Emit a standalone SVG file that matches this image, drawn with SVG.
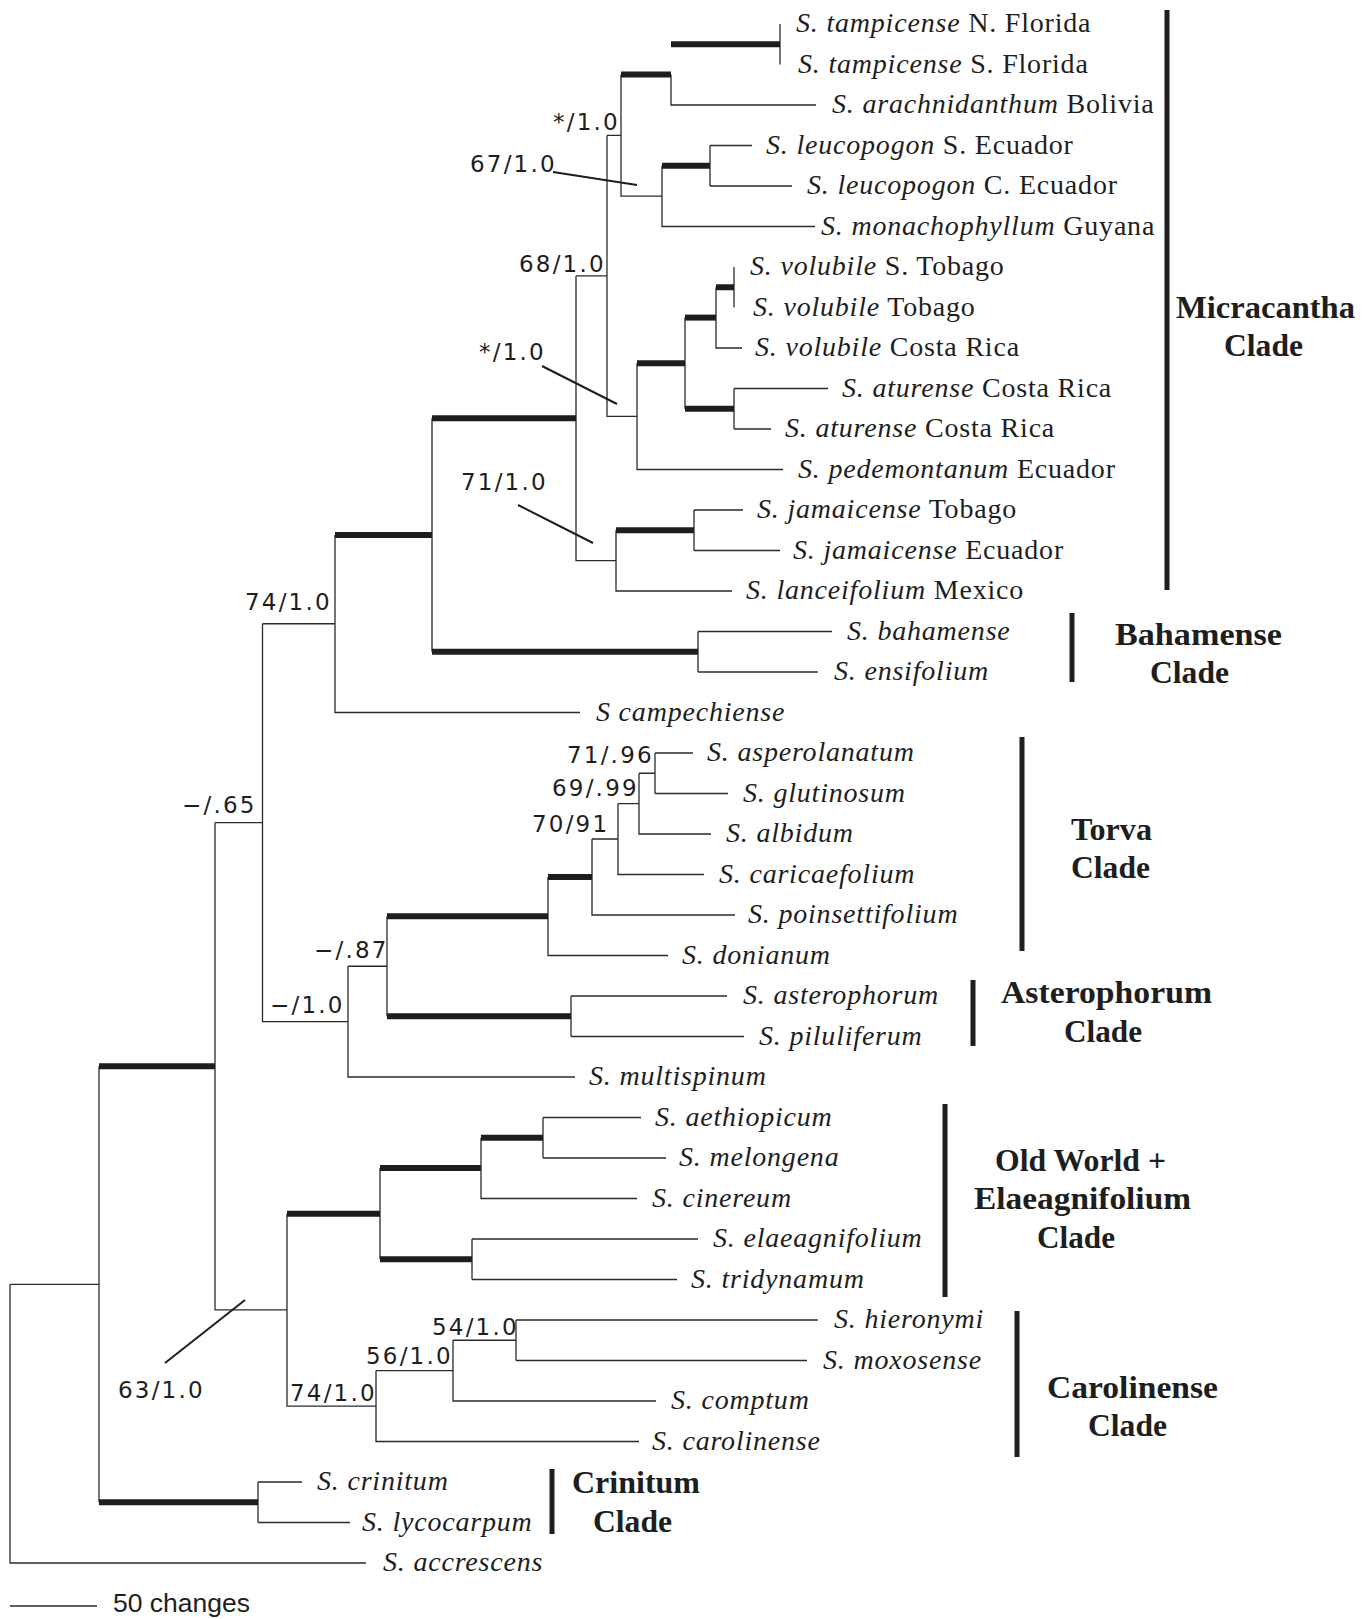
<svg xmlns="http://www.w3.org/2000/svg" width="1369" height="1619" viewBox="0 0 1369 1619">
<style>
.t{stroke:#2b2b2b;stroke-width:1.3;fill:none}
.k{stroke:#1e1e1e;stroke-width:6;fill:none}
.bar{stroke:#1e1e1e;stroke-width:5}
.ptr{stroke:#1e1e1e;stroke-width:2}
.sp{font-family:"Liberation Serif",serif;font-style:italic;font-size:28px;letter-spacing:0.8px;fill:#1e1e1e}
.loc{font-style:normal}
.sv{font-family:"DejaVu Sans",sans-serif;font-size:23px;letter-spacing:2.2px;fill:#1e1e1e}
.cl{font-family:"Liberation Serif",serif;font-weight:bold;font-size:32px;fill:#1e1e1e}
.sc{font-family:"Liberation Sans",sans-serif;font-size:26.5px;fill:#1e1e1e}
</style>
<rect width="1369" height="1619" fill="#fff"/>
<g id="connectors">
<g id="thin">
<path class="t" d="M780 24V64.5"/>
<path class="t" d="M671 74.6V105H816"/>
<path class="t" d="M710 145.5V186M710 145.5H752M710 186H792"/>
<path class="t" d="M662 165.75V226.5H815"/>
<path class="t" d="M621 74.6V196.1H662M607 135.4H621"/>
<path class="t" d="M607 135.4V416.3H637"/>
<path class="t" d="M637 363.2V469.5H783"/>
<path class="t" d="M685 317.6V408.75"/>
<path class="t" d="M716 287.25V348H742"/>
<path class="t" d="M734 267V307.5"/>
<path class="t" d="M734 388.5V429M734 388.5H828M734 429H771"/>
<path class="t" d="M576 275.9V560.6H616M576 275.9H607"/>
<path class="t" d="M616 530.25V591H732"/>
<path class="t" d="M694 510V550.5M694 510H743M694 550.5H780"/>
<path class="t" d="M432 418.2V651.75"/>
<path class="t" d="M698 631.5V672M698 631.5H832M698 672H818"/>
<path class="t" d="M335 535V712.5H580"/>
<path class="t" d="M262.5 623.75V1021.6H348M262.5 623.75H335"/>
<path class="t" d="M348 966.25V1077H575M348 966.25H387"/>
<path class="t" d="M387 916.25V1016.25"/>
<path class="t" d="M548 877V955.5H668"/>
<path class="t" d="M592 839V915H735M592 839H618"/>
<path class="t" d="M618 803.6V874.5H704M618 803.6H639"/>
<path class="t" d="M639 773.25V834H711M639 773.25H655"/>
<path class="t" d="M655 753V793.5M655 753H693M655 793.5H728"/>
<path class="t" d="M571 996V1036.5M571 996H727M571 1036.5H744"/>
<path class="t" d="M215 822.7V1309.9H287M215 822.7H262.5"/>
<path class="t" d="M287 1213.7V1406.1H376"/>
<path class="t" d="M380 1168.1V1259.25"/>
<path class="t" d="M481 1137.75V1198.5H637"/>
<path class="t" d="M543 1117.5V1158M543 1117.5H641M543 1158H666"/>
<path class="t" d="M472 1239V1279.5M472 1239H698M472 1279.5H677"/>
<path class="t" d="M376 1370.6V1441.5H639M376 1370.6H453"/>
<path class="t" d="M453 1340.25V1401H656M453 1340.25H516"/>
<path class="t" d="M516 1320V1360.5M516 1320H818M516 1360.5H807"/>
<path class="t" d="M99 1066.3V1502.25"/>
<path class="t" d="M258 1482V1522.5M258 1482H302M258 1522.5H350"/>
<path class="t" d="M10 1284.3V1563H366M10 1284.3H99"/>
</g>
<g id="thick">
<path class="k" d="M671 44.25H780"/>
<path class="k" d="M621 74.6H671"/>
<path class="k" d="M662 165.75H710"/>
<path class="k" d="M637 363.2H685"/>
<path class="k" d="M685 317.6H716"/>
<path class="k" d="M716 287.25H734"/>
<path class="k" d="M685 408.75H734"/>
<path class="k" d="M616 530.25H694"/>
<path class="k" d="M432 418.2H576"/>
<path class="k" d="M432 651.75H698"/>
<path class="k" d="M335 535H432"/>
<path class="k" d="M548 877H592"/>
<path class="k" d="M387 916.25H548"/>
<path class="k" d="M387 1016.25H571"/>
<path class="k" d="M99 1066.3H215"/>
<path class="k" d="M287 1213.7H380"/>
<path class="k" d="M380 1168.1H481"/>
<path class="k" d="M481 1137.75H543"/>
<path class="k" d="M380 1259.25H472"/>
<path class="k" d="M99 1502.25H258"/>
</g>
<g id="pointers">
<line class="ptr" x1="553" y1="172" x2="637" y2="185"/>
<line class="ptr" x1="542" y1="366" x2="617" y2="404"/>
<line class="ptr" x1="518" y1="505" x2="593" y2="543"/>
<line class="ptr" x1="165" y1="1363" x2="245" y2="1300"/>
</g>
<g id="scalebar">
<line class="t" x1="10" y1="1606" x2="97" y2="1606"/>
</g>
</g>
<g id="tips">
<g id="tip0"><text class="sp" x="796" y="32">S. tampicense<tspan class="loc"> N. Florida</tspan></text></g>
<g id="tip1"><text class="sp" x="798" y="72.5">S. tampicense<tspan class="loc"> S. Florida</tspan></text></g>
<g id="tip2"><text class="sp" x="832" y="113">S. arachnidanthum<tspan class="loc"> Bolivia</tspan></text></g>
<g id="tip3"><text class="sp" x="766" y="153.5">S. leucopogon<tspan class="loc"> S. Ecuador</tspan></text></g>
<g id="tip4"><text class="sp" x="807" y="194">S. leucopogon<tspan class="loc"> C. Ecuador</tspan></text></g>
<g id="tip5"><text class="sp" x="821" y="234.5">S. monachophyllum<tspan class="loc"> Guyana</tspan></text></g>
<g id="tip6"><text class="sp" x="750" y="275">S. volubile<tspan class="loc"> S. Tobago</tspan></text></g>
<g id="tip7"><text class="sp" x="753" y="315.5">S. volubile<tspan class="loc"> Tobago</tspan></text></g>
<g id="tip8"><text class="sp" x="755" y="356">S. volubile<tspan class="loc"> Costa Rica</tspan></text></g>
<g id="tip9"><text class="sp" x="842" y="396.5">S. aturense<tspan class="loc"> Costa Rica</tspan></text></g>
<g id="tip10"><text class="sp" x="785" y="437">S. aturense<tspan class="loc"> Costa Rica</tspan></text></g>
<g id="tip11"><text class="sp" x="798" y="477.5">S. pedemontanum<tspan class="loc"> Ecuador</tspan></text></g>
<g id="tip12"><text class="sp" x="757" y="518">S. jamaicense<tspan class="loc"> Tobago</tspan></text></g>
<g id="tip13"><text class="sp" x="793" y="558.5">S. jamaicense<tspan class="loc"> Ecuador</tspan></text></g>
<g id="tip14"><text class="sp" x="746" y="599">S. lanceifolium<tspan class="loc"> Mexico</tspan></text></g>
<g id="tip15"><text class="sp" x="847" y="639.5">S. bahamense</text></g>
<g id="tip16"><text class="sp" x="834" y="680">S. ensifolium</text></g>
<g id="tip17"><text class="sp" x="596" y="720.5">S campechiense</text></g>
<g id="tip18"><text class="sp" x="707" y="761">S. asperolanatum</text></g>
<g id="tip19"><text class="sp" x="743" y="801.5">S. glutinosum</text></g>
<g id="tip20"><text class="sp" x="726" y="842">S. albidum</text></g>
<g id="tip21"><text class="sp" x="719" y="882.5">S. caricaefolium</text></g>
<g id="tip22"><text class="sp" x="748" y="923">S. poinsettifolium</text></g>
<g id="tip23"><text class="sp" x="682" y="963.5">S. donianum</text></g>
<g id="tip24"><text class="sp" x="743" y="1004">S. asterophorum</text></g>
<g id="tip25"><text class="sp" x="759" y="1044.5">S. piluliferum</text></g>
<g id="tip26"><text class="sp" x="589" y="1085">S. multispinum</text></g>
<g id="tip27"><text class="sp" x="655" y="1125.5">S. aethiopicum</text></g>
<g id="tip28"><text class="sp" x="679" y="1166">S. melongena</text></g>
<g id="tip29"><text class="sp" x="652" y="1206.5">S. cinereum</text></g>
<g id="tip30"><text class="sp" x="713" y="1247">S. elaeagnifolium</text></g>
<g id="tip31"><text class="sp" x="691" y="1287.5">S. tridynamum</text></g>
<g id="tip32"><text class="sp" x="834" y="1328">S. hieronymi</text></g>
<g id="tip33"><text class="sp" x="823" y="1368.5">S. moxosense</text></g>
<g id="tip34"><text class="sp" x="671" y="1409">S. comptum</text></g>
<g id="tip35"><text class="sp" x="652" y="1449.5">S. carolinense</text></g>
<g id="tip36"><text class="sp" x="317" y="1490">S. crinitum</text></g>
<g id="tip37"><text class="sp" x="362" y="1530.5">S. lycocarpum</text></g>
<g id="tip38"><text class="sp" x="383" y="1571">S. accrescens</text></g>
</g>
<g id="support">
<g id="sv1"><text class="sv" x="553" y="130">*/1.0</text></g>
<g id="sv2"><text class="sv" x="470" y="172">67/1.0</text></g>
<g id="sv3"><text class="sv" x="519" y="272">68/1.0</text></g>
<g id="sv4"><text class="sv" x="479" y="360">*/1.0</text></g>
<g id="sv5"><text class="sv" x="461" y="490">71/1.0</text></g>
<g id="sv6"><text class="sv" x="245" y="610">74/1.0</text></g>
<g id="sv7"><text class="sv" x="182" y="813">−/.65</text></g>
<g id="sv8"><text class="sv" x="567" y="763">71/.96</text></g>
<g id="sv9"><text class="sv" x="552" y="796">69/.99</text></g>
<g id="sv10"><text class="sv" x="532" y="832">70/91</text></g>
<g id="sv11"><text class="sv" x="314" y="958">−/.87</text></g>
<g id="sv12"><text class="sv" x="270" y="1013">−/1.0</text></g>
<g id="sv13"><text class="sv" x="432" y="1335">54/1.0</text></g>
<g id="sv14"><text class="sv" x="366" y="1364">56/1.0</text></g>
<g id="sv15"><text class="sv" x="290" y="1401">74/1.0</text></g>
<g id="sv16"><text class="sv" x="118" y="1398">63/1.0</text></g>
</g>
<g id="clades">
<g id="clade-micracantha"><line class="bar" x1="1167" y1="10" x2="1167" y2="590"/><text class="cl" x="1176" y="318" textLength="179" lengthAdjust="spacingAndGlyphs">Micracantha</text><text class="cl" x="1224" y="356" textLength="79" lengthAdjust="spacingAndGlyphs">Clade</text></g>
<g id="clade-bahamense"><line class="bar" x1="1072" y1="613" x2="1072" y2="682"/><text class="cl" x="1115" y="645" textLength="167" lengthAdjust="spacingAndGlyphs">Bahamense</text><text class="cl" x="1150" y="683" textLength="79" lengthAdjust="spacingAndGlyphs">Clade</text></g>
<g id="clade-torva"><line class="bar" x1="1022" y1="737" x2="1022" y2="951"/><text class="cl" x="1071" y="840" textLength="81" lengthAdjust="spacingAndGlyphs">Torva</text><text class="cl" x="1071" y="878" textLength="79" lengthAdjust="spacingAndGlyphs">Clade</text></g>
<g id="clade-asterophorum"><line class="bar" x1="973" y1="980" x2="973" y2="1046"/><text class="cl" x="1001" y="1003" textLength="211" lengthAdjust="spacingAndGlyphs">Asterophorum</text><text class="cl" x="1064" y="1042" textLength="78" lengthAdjust="spacingAndGlyphs">Clade</text></g>
<g id="clade-oldworld"><line class="bar" x1="945" y1="1104" x2="945" y2="1297"/><text class="cl" x="995" y="1171" textLength="171" lengthAdjust="spacingAndGlyphs">Old World +</text><text class="cl" x="974" y="1209" textLength="217" lengthAdjust="spacingAndGlyphs">Elaeagnifolium</text><text class="cl" x="1037" y="1248" textLength="78" lengthAdjust="spacingAndGlyphs">Clade</text></g>
<g id="clade-carolinense"><line class="bar" x1="1017" y1="1311" x2="1017" y2="1457"/><text class="cl" x="1047" y="1398" textLength="171" lengthAdjust="spacingAndGlyphs">Carolinense</text><text class="cl" x="1088" y="1436" textLength="79" lengthAdjust="spacingAndGlyphs">Clade</text></g>
<g id="clade-crinitum"><line class="bar" x1="552" y1="1469" x2="552" y2="1534"/><text class="cl" x="572" y="1493" textLength="128" lengthAdjust="spacingAndGlyphs">Crinitum</text><text class="cl" x="593" y="1532" textLength="79" lengthAdjust="spacingAndGlyphs">Clade</text></g>
</g>
<g id="scale"><text class="sc" x="113" y="1612">50 changes</text></g>
</svg>
